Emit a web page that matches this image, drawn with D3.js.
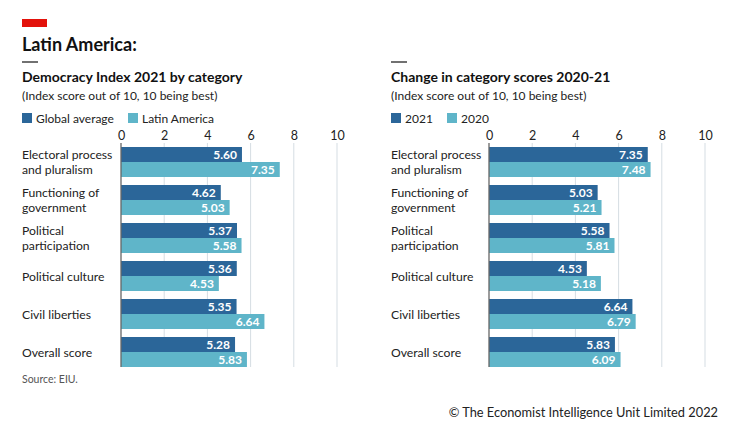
<!DOCTYPE html>
<html>
<head>
<meta charset="utf-8">
<script src="https://cdn.jsdelivr.net/npm/d3@7"></script>
<style>
  body { margin: 0; background: #fff; }
  svg { font-family: Lato, "Open Sans", sans-serif; }
</style>
</head>
<body>
<div id="chart"></div>
<script>
// categories & values
const categories = [
  ["Electoral process", "and pluralism"],
  ["Functioning of", "government"],
  ["Political", "participation"],
  ["Political culture"],
  ["Civil liberties"],
  ["Overall score"]
];
const globalAvg = [5.60, 4.62, 5.37, 5.36, 5.35, 5.28];
const latAm = [7.35, 5.03, 5.58, 4.53, 6.64, 5.83];
const score2021 = [7.35, 5.03, 5.58, 4.53, 6.64, 5.83];
const score2020 = [7.48, 5.21, 5.81, 5.18, 6.79, 6.09];
const xTicks = [0, 2, 4, 6, 8, 10];

const W = 750, H = 432;
const dark = "#2b6699", light = "#5fb5c9";

const svg = d3.select("#chart").append("svg").attr("width", W).attr("height", H);

// header
svg.append("rect").attr("x", 22).attr("y", 19).attr("width", 25).attr("height", 8).attr("fill", "#e3120b");
svg.append("text").attr("x", 22).attr("y", 51).text("Latin America:")
  .attr("font-size", 18).attr("font-weight", 700).attr("fill", "#111");

function panel(opts) {
  const g = svg.append("g");
  const left = opts.left;
  g.append("line").attr("x1", left).attr("x2", left + 16).attr("y1", 62).attr("y2", 62)
    .attr("stroke", "#111").attr("stroke-width", 1.2);
  g.append("text").attr("x", left).attr("y", 82).text(opts.title)
    .attr("font-size", 14).attr("font-weight", 700).attr("fill", "#111");
  g.append("text").attr("x", left).attr("y", 100).text("(Index score out of 10, 10 being best)")
    .attr("font-size", 12).attr("fill", "#222");

  // legend
  opts.legend.forEach((d, i) => {
    const lx = left + opts.legendX[i];
    g.append("rect").attr("x", lx).attr("y", 113).attr("width", 10).attr("height", 10).attr("fill", d.color);
    g.append("text").attr("x", lx + 14).attr("y", 122.5).text(d.label)
      .attr("font-size", 12).attr("fill", "#222");
  });

  const x = d3.scaleLinear().domain([0, 10]).range([opts.x0, opts.x0 + 216]);
  const y = d3.scaleBand().domain(d3.range(categories.length)).range([147, 367]).paddingInner(8 / 38).paddingOuter(0);
  const sub = d3.scaleBand().domain([0, 1]).range([0, y.bandwidth()]);

  // gridlines
  g.append("g").selectAll("line").data(xTicks.slice(1)).join("line")
    .attr("x1", d => x(d)).attr("x2", d => x(d)).attr("y1", 143).attr("y2", 367)
    .attr("stroke", "#d5dde3").attr("stroke-width", 1);

  const ax = g.append("g").attr("transform", "translate(0,141)")
    .call(d3.axisTop(x).tickValues(xTicks).tickSize(0).tickPadding(1));
  ax.select(".domain").remove();
  ax.selectAll("text").attr("font-size", 12.5).attr("fill", "#222").attr("font-family", "Lato, sans-serif");

  const series = [opts.a, opts.b];
  const colors = [dark, light];
  series.forEach((vals, s) => {
    g.append("g").selectAll("rect").data(vals).join("rect")
      .attr("x", x(0)).attr("y", (d, i) => y(i) + sub(s))
      .attr("width", d => x(d) - x(0)).attr("height", sub.bandwidth())
      .attr("fill", colors[s]);
    g.append("g").selectAll("text").data(vals).join("text")
      .attr("x", d => x(d) - 5).attr("y", (d, i) => y(i) + sub(s) + sub.bandwidth() / 2 + 4.5)
      .attr("text-anchor", "end").attr("fill", "#fff").attr("font-size", 12).attr("font-weight", 700)
      .text(d => d.toFixed(2));
  });

  // zero axis line
  g.append("line").attr("x1", x(0)).attr("x2", x(0)).attr("y1", 143).attr("y2", 367)
    .attr("stroke", "#666").attr("stroke-width", 1.3);

  // category labels
  categories.forEach((lines, i) => {
    const cy = y(i) + y.bandwidth() / 2;
    const t = g.append("text").attr("font-size", 12.2).attr("fill", "#222");
    lines.forEach((ln, j) => {
      t.append("tspan").attr("x", left)
        .attr("y", cy + 4.5 + (j - (lines.length - 1) / 2) * 15).text(ln);
    });
  });
}

panel({
  left: 22, x0: 121, title: "Democracy Index 2021 by category",
  legend: [{label: "Global average", color: dark}, {label: "Latin America", color: light}],
  legendX: [0, 106], a: globalAvg, b: latAm
});
panel({
  left: 391, x0: 489, title: "Change in category scores 2020-21",
  legend: [{label: "2021", color: dark}, {label: "2020", color: light}],
  legendX: [0, 56], a: score2021, b: score2020
});

svg.append("text").attr("x", 22).attr("y", 383).text("Source: EIU.")
  .attr("font-size", 10.5).attr("fill", "#555");
svg.append("text").attr("x", 718).attr("y", 417).attr("text-anchor", "end")
  .text("© The Economist Intelligence Unit Limited 2022")
  .attr("font-size", 12.8).attr("fill", "#222");
</script>
</body>
</html>
